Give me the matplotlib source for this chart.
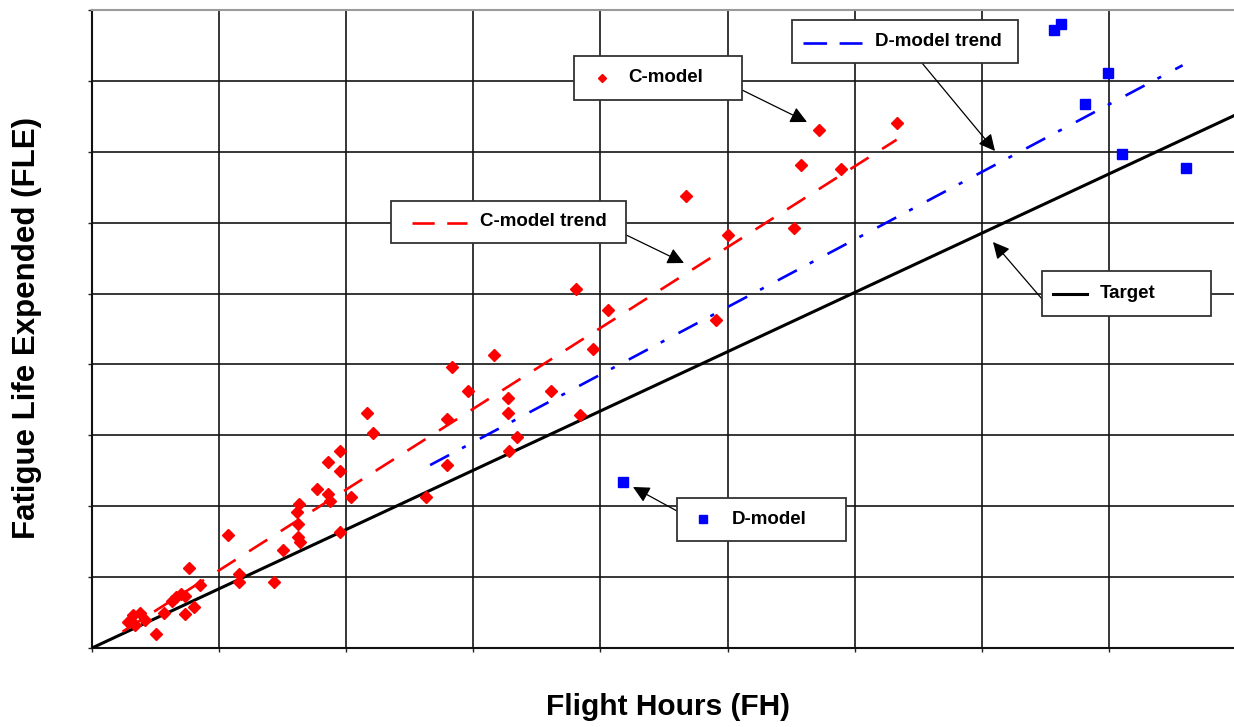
import matplotlib
matplotlib.use('Agg')
import matplotlib.pyplot as plt
from matplotlib.patches import Rectangle
from matplotlib.lines import Line2D

plt.rcParams['font.family'] = ['Liberation Sans', 'DejaVu Sans']
plt.rcParams['lines.scale_dashes'] = False

# C-model points (grid units of flight hours / fatigue life expended)
c_fh = [0.28, 0.32, 0.38, 0.42, 0.34, 0.50, 0.57, 0.63, 0.66, 0.70, 0.73, 0.73,
        0.80, 0.76, 0.85, 1.07, 1.16, 1.16, 1.43, 1.50, 1.62, 1.64, 1.62, 1.61,
        1.63, 1.77, 1.86, 1.87, 1.86, 1.95, 1.95, 1.95, 2.04, 2.16, 2.21, 2.63,
        2.79, 2.79, 2.83, 2.96, 3.16, 3.27, 3.27, 3.34, 3.28, 3.61, 3.84, 3.81,
        3.94, 4.06, 4.67, 5.00, 4.91, 5.52, 5.58, 5.72, 5.89, 6.33]
c_fle = [0.36, 0.47, 0.49, 0.40, 0.32, 0.20, 0.49, 0.66, 0.72, 0.76, 0.73, 0.48,
         0.58, 1.13, 0.89, 1.59, 1.04, 0.93, 0.93, 1.38, 1.57, 1.50, 1.75, 1.92,
         2.03, 2.24, 2.17, 2.08, 2.63, 2.78, 2.49, 1.63, 2.13, 3.32, 3.03, 2.13,
         3.23, 2.58, 3.97, 3.63, 4.13, 3.52, 3.32, 2.98, 2.78, 3.63, 3.28, 5.07,
         4.22, 4.77, 6.37, 5.83, 4.63, 5.93, 6.81, 7.31, 6.76, 7.41]

# D-model points
d_fh = [4.18, 7.57, 7.62, 7.99, 7.81, 8.10, 8.61]
d_fle = [2.34, 8.72, 8.80, 8.11, 7.67, 6.97, 6.77]

# trend and target lines (end points)
c_trend_fh = [0.24, 6.33]
c_trend_fle = [0.23, 7.17]
d_trend_fh = [2.66, 8.58]
d_trend_fle = [2.58, 8.22]
target_fh = [0.0, 9.2]
target_fle = [0.0, 7.69]

grid_ticks = list(range(10))

W, H = 1234, 727
fig = plt.figure(figsize=(W / 100, H / 100), dpi=100)
ax = fig.add_axes([92 / W, 1 - 648 / H, (1236 - 92) / W, 638 / H])


def fp(x, y):
    # pixel position (from top left) -> figure fraction
    return (x / W, 1 - y / H)


ax.plot(target_fh, target_fle, color='black', lw=2.2, zorder=3, solid_capstyle='butt')
ax.plot(c_trend_fh, c_trend_fle, color='red', lw=1.9, dashes=(15.5, 11.5), zorder=3)
ax.plot(d_trend_fh, d_trend_fle, color='blue', lw=1.9,
        dashes=(15.5, 10.5, 3, 11.5), zorder=3)
ax.plot(c_fh, c_fle, linestyle='none', marker='D', ms=6, color='red', zorder=4)
ax.plot(d_fh, d_fle, linestyle='none', marker='s', ms=6.5, color='blue', zorder=4)

ax.set_xlim(0, 9)
ax.set_ylim(0, 9)
ax.set_xticks(grid_ticks)
ax.set_yticks(grid_ticks)
ax.set_xticklabels([])
ax.set_yticklabels([])
ax.tick_params(direction='out', length=3, width=1, color='#222222')
ax.grid(True, color='#141414', lw=1.2)
ax.set_axisbelow(True)
for side in ['left', 'bottom']:
    ax.spines[side].set_color('#111111')
    ax.spines[side].set_linewidth(1.5)
ax.spines['top'].set_color('#9a9a9a')
ax.spines['top'].set_linewidth(1.5)
ax.spines['right'].set_visible(False)

fig.text(*fp(27, 328), 'Fatigue Life Expended (FLE)', rotation=90, fontsize=22.5,
         fontweight='bold', ha='center', va='center')
fig.text(*fp(668, 707), 'Flight Hours (FH)', fontsize=21.5, fontweight='bold',
         ha='center', va='center')

# callout boxes: (x0, y0, x1, y1) in pixels, label, text x, arrow start, arrow tip
callouts = [
    ((574, 56, 742, 100), 'C-model', 628, (742, 90), (807, 122)),
    ((391, 201, 626, 243), 'C-model trend', 480, (618, 231), (684, 263)),
    ((792, 20, 1018, 63), 'D-model trend', 875, (922, 63), (995, 151)),
    ((1042, 271, 1211, 316), 'Target', 1100, (1042, 299), (993, 242)),
    ((677, 498, 846, 541), 'D-model', 732, (677, 511), (633, 487)),
]
for (x0, y0, x1, y1), label, tx, start, tip in callouts:
    ax.annotate('', xy=fp(*tip), xytext=fp(*start), xycoords='figure fraction',
                textcoords='figure fraction', annotation_clip=False,
                arrowprops=dict(arrowstyle='-|>,head_length=1.0,head_width=0.5',
                                color='black', lw=0.9, shrinkA=0, shrinkB=0))
    fig.add_artist(Rectangle(fp(x0, y1), (x1 - x0) / W, (y1 - y0) / H,
                             transform=fig.transFigure, facecolor='white',
                             edgecolor='#333333', lw=1.3, zorder=5))
    fig.text(*fp(tx, (y0 + y1) / 2), label, fontsize=13.5, fontweight='bold',
             ha='left', va='center', zorder=6)

# legend samples inside boxes
fig.add_artist(Line2D([fp(602, 78)[0]], [fp(602, 78)[1]], transform=fig.transFigure,
                      marker='D', ms=4.5, color='red', linestyle='none', zorder=6))
fig.add_artist(Line2D([fp(703, 519)[0]], [fp(703, 519)[1]], transform=fig.transFigure,
                      marker='s', ms=5.5, color='blue', linestyle='none', zorder=6))
fig.add_artist(Line2D([fp(412, 223)[0], fp(467, 223)[0]], [fp(412, 223)[1]] * 2,
                      transform=fig.transFigure, color='red', lw=1.9,
                      dashes=(16, 9), zorder=6))
fig.add_artist(Line2D([fp(803, 43)[0], fp(862, 43)[0]], [fp(803, 43)[1]] * 2,
                      transform=fig.transFigure, color='blue', lw=1.9,
                      dashes=(17, 9), zorder=6))
fig.add_artist(Line2D([fp(1053, 294)[0], fp(1087, 294)[0]], [fp(1053, 294)[1]] * 2,
                      transform=fig.transFigure, color='black', lw=2.2, zorder=6))

fig.savefig('out.png', dpi=100)
